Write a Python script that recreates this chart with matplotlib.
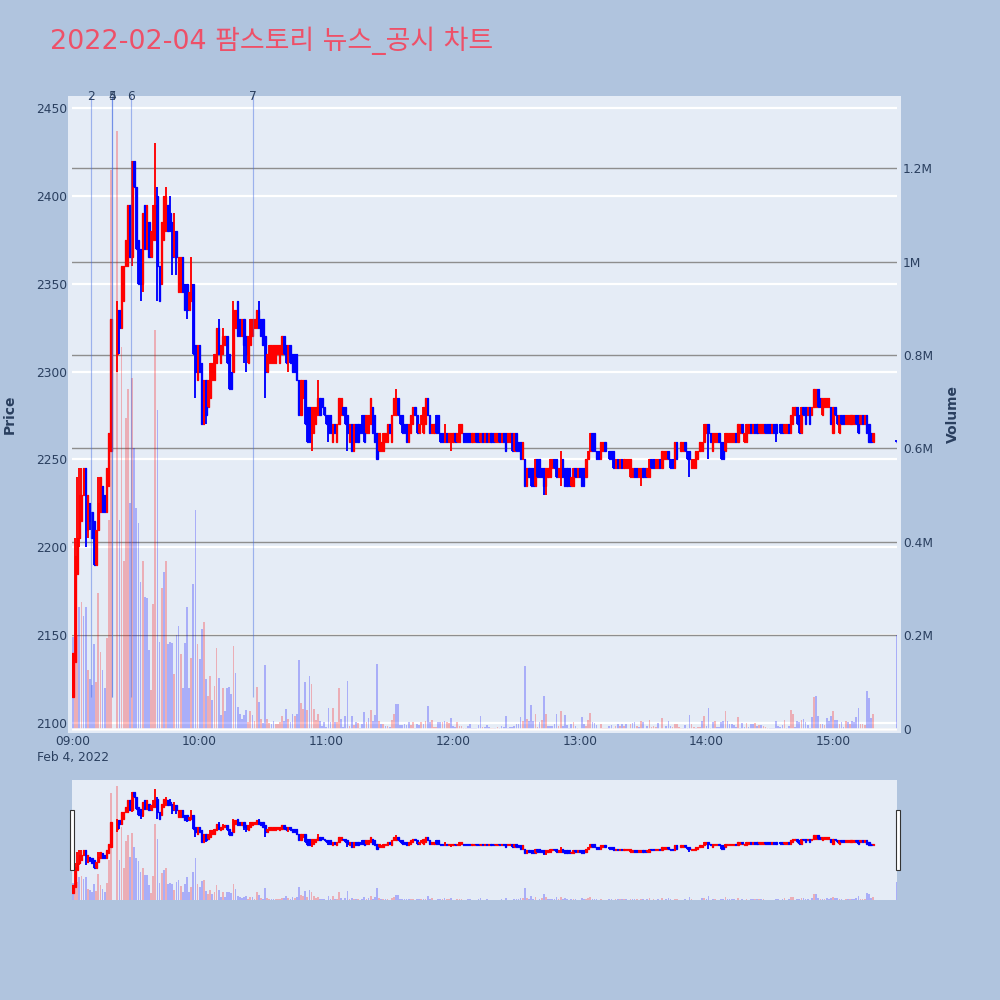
import numpy as np
import matplotlib
matplotlib.use("Agg")
import matplotlib.pyplot as plt
from matplotlib.patches import Rectangle

nan = float("nan")

title_text = "2022-02-04 팜스토리 뉴스_공시 차트"
price_ticks = [2100, 2150, 2200, 2250, 2300, 2350, 2400, 2450]
volume_ticks = [0, 200, 400, 600, 800, 1000, 1200]
volume_tick_labels = ["0", "0.2M", "0.4M", "0.6M", "0.8M", "1M", "1.2M"]
time_ticks = [0, 60, 120, 180, 240, 300, 360]
time_tick_labels = ["09:00", "10:00", "11:00", "12:00", "13:00", "14:00", "15:00"]
news_labels = ["2", "4", "5", "6", "7"]
news_minutes = [8.5, 18.4, 18.7, 27.3, 85.3]

opens = [
 2115,2135,2185,2205,2215,2230,2245,2210,2225,2220,
 2215,2190,2210,2220,2235,2230,2220,2235,2255,nan,
 nan,2310,2335,2325,2340,2360,2360,2395,2365,2420,
 2405,2375,2370,2350,2395,2370,2385,2365,2375,2375,
 2400,2360,2350,2375,2380,2395,2390,2385,2365,2380,
 2345,2345,2365,2350,2350,2335,2340,2350,2315,2295,
 2315,2305,2270,2295,2280,2285,2295,2295,2305,2325,
 2305,2310,2315,2320,2310,2300,2300,2325,2340,2330,
 2320,2330,2320,2305,2315,2320,2325,2325,2335,2330,
 2330,2320,2300,2305,2305,2305,2305,2310,2305,2310,
 2320,2315,2310,2315,2310,2310,2310,2295,2275,2285,
 2295,2280,2280,2265,2265,2270,2275,2285,2285,2280,
 2275,2275,2275,2260,2270,2260,2270,2275,2280,2280,
 2275,2260,2270,2255,2270,2270,2270,2275,2275,2265,
 2265,2270,2280,2275,2265,2255,2255,2255,2260,2260,
 2270,2260,2275,2275,2285,2275,2275,2270,2270,2260,
 2265,2270,2280,2275,2265,2270,2265,2270,2285,2275,
 2265,2265,2275,2275,2265,2265,2260,2265,2260,2260,
 2260,2265,2260,2260,2265,2265,2265,2265,2265,2260,
 2260,2265,2265,2260,2265,2260,2265,2260,2265,2265,
 2260,2260,2265,2260,2265,2265,2260,2260,2265,2255,
 2265,2260,2260,2250,2250,2235,2245,2245,2245,2235,
 2250,2250,2245,2245,2235,2240,2240,2245,2250,2250,
 2240,2240,2250,2245,2245,2245,2235,2235,2245,2240,
 2245,2245,2245,2240,2250,2255,2265,2265,2255,2255,
 2250,2255,2260,nan,2255,2255,2255,2245,2250,2245,
 2250,2245,2245,2245,2240,2240,2245,2245,2240,2240,
 2245,2245,2240,2240,2250,2250,2245,2245,2250,2245,
 2250,2250,2255,2250,2250,2245,2260,nan,2255,2255,
 2260,2255,2255,2245,2245,2245,2250,2255,2255,2260,
 2265,2270,2265,2255,2260,2260,2265,2260,2260,2255,
 2260,2260,2260,2260,2265,2260,2265,2270,2260,2260,
 2265,2270,2265,2270,2270,2265,2265,2265,2270,2270,
 2270,2265,2270,2270,nan,2270,2270,2265,2265,2270,
 2265,2270,2275,2280,2275,2265,2280,2280,2275,2280,
 2275,2280,2280,2290,2285,2275,2280,2280,2280,2280,
 2265,2280,2275,2265,2275,2275,2270,2270,2270,2270,
 2270,2275,2275,2270,2275,2270,2275,2270,2265,2260,
 nan,nan,nan,nan,nan,nan,nan,nan,nan,nan,
 2260]

closes = [
 2140,2195,2205,2230,2230,2245,2230,2230,2215,2205,
 2190,2210,2225,2240,2220,2220,2245,2265,2330,nan,
 nan,2335,2325,2360,2360,2375,2395,2365,2420,2405,
 2370,2350,2350,2390,2370,2395,2365,2380,2395,2395,
 2360,2340,2385,2400,2400,2380,2380,2365,2380,2365,
 2365,2365,2345,2335,2335,2345,2350,2310,2300,2315,
 2300,2270,2295,2275,2295,2305,2305,2310,2325,2310,
 2315,2320,2320,2305,2290,2290,2335,2335,2320,2320,
 2330,2315,2310,2320,2330,2330,2330,2335,2325,2320,
 2315,2300,2310,2315,2315,2315,2315,2315,2315,2320,
 2310,2305,2315,2305,2300,2300,2295,2275,2295,2295,
 2270,2260,2260,2280,2280,2280,2285,2275,2280,2275,
 2270,2265,2265,2270,2265,2270,2285,2285,2275,2270,
 2265,2270,2255,2270,2260,2260,2265,2265,2260,2275,
 2275,2285,2265,2260,2250,2265,2260,2265,2265,2270,
 2265,2275,2285,2285,2275,2270,2265,2265,2260,2270,
 2275,2280,2275,2265,2270,2275,2280,2285,2275,2265,
 2270,2270,2265,2265,2260,2260,2265,2260,2265,2265,
 2265,2260,2265,2270,2270,2260,2260,2260,2260,2265,
 2265,2260,2260,2265,2260,2265,2260,2265,2260,2260,
 2265,2265,2260,2265,2260,2255,2265,2265,2255,2265,
 2255,2255,2250,2260,2235,2245,2240,2235,2235,2250,
 2240,2240,2240,2235,2245,2245,2250,2250,2245,2240,
 2245,2245,2240,2235,2235,2235,2240,2245,2240,2245,
 2240,2235,2235,2250,2255,2265,2255,2255,2250,2250,
 2260,2260,2255,nan,2250,2250,2245,2250,2245,2250,
 2245,2250,2250,2250,2250,2245,2240,2240,2245,2245,
 2240,2240,2245,2250,2245,2245,2250,2250,2245,2255,
 2255,2255,2250,2245,2245,2260,2250,nan,2260,2260,
 2255,2250,2250,2250,2250,2255,2255,2260,2260,2270,
 2270,2265,2260,2265,2265,2265,2260,2250,2250,2265,
 2265,2265,2265,2265,2260,2270,2270,2265,2265,2270,
 2270,2265,2270,2265,2265,2270,2270,2270,2265,2265,
 2265,2270,2265,2265,nan,2265,2265,2270,2270,2265,
 2275,2280,2280,2270,2265,2280,2275,2270,2280,2270,
 2280,2290,2290,2280,2280,2285,2285,2285,2285,2270,
 2280,2275,2270,2275,2270,2270,2275,2275,2275,2275,
 2275,2270,2265,2275,2270,2275,2265,2260,2260,2265,
 nan,nan,nan,nan,nan,nan,nan,nan,nan,nan,
 2260]

upper_wicks = {1:2205,2:2240,3:2245,4:2245,12:2240,21:2340,39:2430,40:2405,44:2405,46:2400,
               48:2390,56:2365,69:2330,71:2325,76:2340,88:2340,116:2295,153:2290,176:2270,
               231:2255,390:2261}
lower_wicks = {3:2200,6:2200,7:2205,8:2210,21:2300,22:2310,28:2360,32:2340,33:2345,40:2340,
               47:2355,49:2355,54:2330,58:2285,63:2270,81:2305,82:2300,91:2285,102:2300,
               113:2255,121:2260,130:2255,179:2255,223:2230,224:2230,231:2235,269:2235,
               292:2240,301:2250,333:2260}

volumes_k = [
 196,140,200,260,270,240,260,126,107,93,
 180,100,290,163,125,87,193,446,1197,0,
 0,1279,446,818,358,666,726,483,750,600,
 472,441,314,358,282,280,169,82,266,854,
 683,186,300,335,358,180,186,183,116,200,
 220,160,86,183,260,86,150,310,468,180,
 148,213,228,105,70,113,62,92,173,108,
 30,86,37,86,88,74,176,118,46,32,
 20,30,40,13,38,29,16,88,56,21,
 12,135,20,12,10,16,9,10,13,26,
 17,41,20,13,31,27,31,147,54,42,
 100,39,113,95,42,19,31,16,6,15,
 3,44,14,43,13,14,86,20,3,27,
 101,6,27,8,14,11,1,10,35,15,
 22,40,16,29,138,17,10,9,6,6,
 4,19,31,52,53,7,8,9,8,14,
 7,13,1,9,7,14,10,16,48,13,
 19,3,4,13,14,15,17,13,11,22,
 5,4,13,6,6,1,1,6,9,1,
 1,2,8,26,4,4,7,3,2,1,
 1,4,1,6,3,27,1,3,4,6,
 9,9,24,17,134,21,16,50,16,31,
 3,13,18,69,31,6,6,6,9,31,
 6,37,6,28,8,1,10,13,6,1,
 0,24,9,6,19,34,13,12,8,0,
 9,1,1,1,6,7,1,6,10,6,
 10,6,10,0,10,11,14,6,4,16,
 15,0,6,19,3,6,4,12,0,22,
 0,6,17,6,3,10,10,3,2,1,
 8,1,29,9,3,2,4,3,17,26,
 6,44,1,14,16,3,3,14,16,38,
 16,10,9,7,4,24,1,11,4,11,
 3,10,9,11,6,7,7,6,3,1,
 1,1,1,16,6,4,7,19,1,6,
 39,31,4,16,15,19,21,13,7,1,
 24,67,69,26,10,10,7,23,16,27,
 37,19,18,10,13,3,16,15,10,16,
 14,24,43,10,9,8,81,66,22,31,
 0,0,0,0,0,0,0,0,0,0,
 200]

volume_directions = (
 "BRRBRBBRBB" "BRRRBBRRRB" "BRBRRRRBRB" "BBBRBBBRRR" "BBRBRBBBRB"
 "BRBBBBRBBR" "BBRBRRBRRB" "BRBBBBRBBB" "BBBRRBRRBR" "BBRRBBRRRR"
 "BBRBBRBBRR" "BRBRRRRBBB" "BBBRBRRBBB" "BRBRBRBBBR" "BRBBBRBRBR"
 "BRRBBBBBBB" "RRBBBRBRBB" "RRRBBRBRRB" "BBRRRBRBBB" "BBBBRBBBRR"
 "BRBBBBBBBB" "BBBRBRBBBR" "RBRBRBBBBB" "RRBBBBBRBR" "BBBRRRBBBB"
 "RRRRBBRRBR" "BRBBRBBRBR" "BBBRRRRBBR" "BBBBRRRRRB" "BBBRRBRRBR"
 "BBBBRBBBBR" "BBBBBRBBBR" "BBBRBRBRRB" "BBBBBBBRBB" "RRBBBRBBBB"
 "BRBBRBRBBB" "RBBRBBRBRB" "BBBRRRBBBR" "BBBBBBBBBB" "B")

PAPER = "#B0C4DE"
PLOT = "#E5ECF6"
INK = "#2a3f5f"
PX = 1 / 1000


def axes_px(x0, y0, x1, y1, **kw):
    return fig.add_axes([x0 * PX, 1 - y1 * PX, (x1 - x0) * PX, (y1 - y0) * PX], **kw)


def draw_volume(ax):
    minutes = np.arange(len(volumes_k))
    for key, color in (("R", "#ff0000"), ("B", "#0000ff")):
        mask = np.array([d == key for d in volume_directions])
        ax.bar(minutes[mask], np.array(volumes_k)[mask], width=0.8, color=color,
               alpha=0.26, linewidth=0)


def draw_candles(ax):
    o = np.array(opens, float)
    c = np.array(closes, float)
    minutes = np.arange(len(o))
    top = np.fmax(o, c)
    bot = np.fmin(o, c)
    for i, v in upper_wicks.items():
        top[i] = v
    for i, v in lower_wicks.items():
        bot[i] = v
    for up, color in ((True, "#ff0000"), (False, "#0000ff")):
        mask = (c > o) if up else (c <= o)
        ax.vlines(minutes[mask], bot[mask], top[mask], color=color, linewidth=1.35)
        ax.bar(minutes[mask], (c - o)[mask], bottom=o[mask], width=0.55, color=color,
               edgecolor=color, linewidth=0.95)


fig = plt.figure(figsize=(10, 10), dpi=100, facecolor=PAPER)
plt.rcParams["font.family"] = ["DejaVu Sans", "Noto Sans CJK KR"]

fig.add_artist(Rectangle((68 * PX, 1 - 732.5 * PX), 833 * PX, 636.5 * PX, transform=fig.transFigure,
                         facecolor=PLOT, edgecolor="none", zorder=-1))

xlim = (-0.47, 390.3)
plim = (2094.6, 2456.8)
vlim = (-8.5, 1354.5)

ax_g = axes_px(72, 96, 897, 732.5)
ax_v = axes_px(72, 96, 897, 732.5)
ax_p = axes_px(72, 96, 897, 732.5)

ax_g.patch.set_visible(False)
ax_g.set_xlim(xlim)
ax_g.set_ylim(plim)
ax_g.set_yticks(price_ticks)
ax_g.set_xticks(time_ticks)
ax_g.set_xticklabels(time_tick_labels)
ax_g.tick_params(axis="y", length=0, pad=3.6, labelsize=8.8, labelcolor=INK)
ax_g.tick_params(axis="x", length=0, pad=2.0, labelsize=8.8, labelcolor=INK)
ax_g.grid(axis="y", color="white", linewidth=1.6)
ax_g.set_axisbelow(True)

ax_v.patch.set_visible(False)
ax_v.set_xlim(xlim)
ax_v.set_ylim(vlim)
ax_v.yaxis.tick_right()
ax_v.set_yticks(volume_ticks)
ax_v.set_yticklabels(volume_tick_labels)
ax_v.set_xticks([])
ax_v.tick_params(axis="y", length=0, pad=4.3, labelsize=8.8, labelcolor=INK)
ax_v.grid(axis="y", color="#8e8e8e", linewidth=1.0)
ax_v.set_axisbelow(True)
ax_v.axhline(0, color="white", linewidth=1.8, zorder=1.5)
draw_volume(ax_v)

ax_p.patch.set_visible(False)
ax_p.set_xlim(xlim)
ax_p.set_ylim(plim)
ax_p.axis("off")
draw_candles(ax_p)
ax_p.vlines(news_minutes, 2115, plim[1], color="#4169e1", linewidth=0.85, alpha=0.45, zorder=6)

for ax in (ax_g, ax_v, ax_p):
    for s in ax.spines.values():
        s.set_visible(False)

for label, minute in zip(news_labels, news_minutes):
    ax_p.annotate(label, (minute, 0.9985), xycoords=("data", "axes fraction"), ha="center",
                  va="center", fontsize=8.8, color=INK, annotation_clip=False, zorder=7)

fig.text(50 * PX, 1 - 41 * PX, title_text, fontsize=19.4, color="#ee5068", ha="left", va="center",
         family=["DejaVu Sans", "Noto Sans CJK KR"])
fig.text(37 * PX, 1 - 758 * PX, "Feb 4, 2022", fontsize=8.8, color=INK, ha="left", va="center")
fig.text(9.5 * PX, 1 - 414 * PX, "Price", fontsize=10, fontweight="bold", color=INK, rotation=90,
         ha="center", va="center")
fig.text(952.5 * PX, 1 - 414 * PX, "Volume", fontsize=10, fontweight="bold", color=INK, rotation=90,
         ha="center", va="center")

# range slider
sl_v = axes_px(72, 780, 897, 900, facecolor=PLOT)
sl_p = axes_px(72, 780, 897, 900)
sl_v.set_xlim(xlim)
sl_v.set_ylim(0, 1348)
draw_volume(sl_v)
sl_v.set_xticks([])
sl_v.set_yticks([])
sl_p.patch.set_visible(False)
sl_p.set_xlim(xlim)
sl_p.set_ylim(plim)
sl_p.axis("off")
draw_candles(sl_p)
for s in sl_v.spines.values():
    s.set_visible(False)

for hx in (69.5, 895.5):
    fig.add_artist(Rectangle((hx * PX, 1 - 870 * PX), 4 * PX, 60 * PX, transform=fig.transFigure,
                             facecolor="white", edgecolor="#333333", linewidth=0.8, zorder=5))

fig.savefig("out.png", dpi=100, facecolor=PAPER)
